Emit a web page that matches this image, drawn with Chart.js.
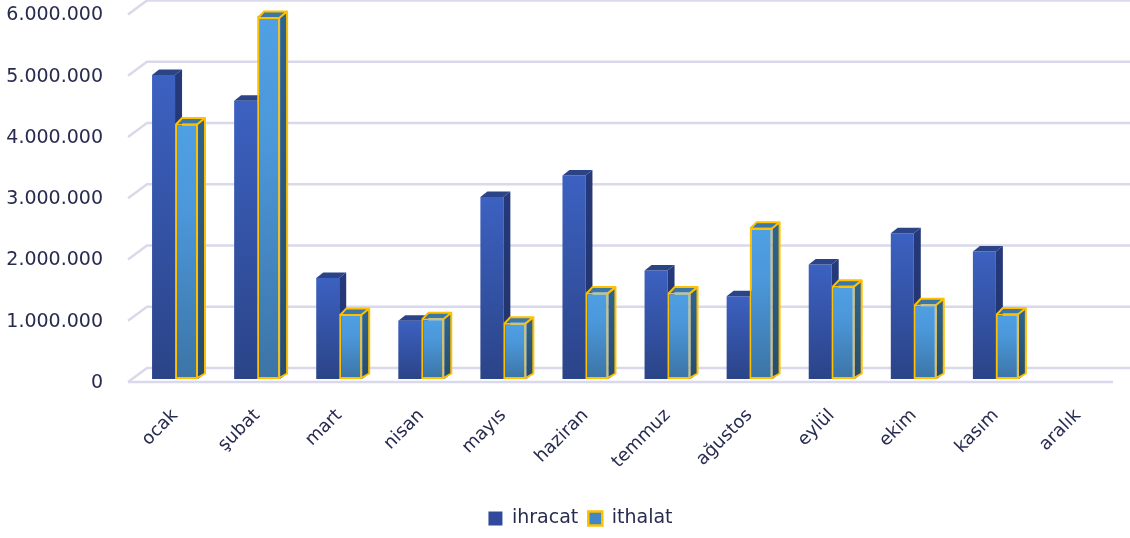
<!DOCTYPE html>
<html>
<head>
<meta charset="utf-8">
<script src="https://cdn.jsdelivr.net/npm/chart.js@4"></script>
<style>
    html, body { margin: 0; padding: 0; background: #ffffff; }
    #wrap { width: 1130px; height: 538px; }
</style>
</head>
<body>
<div id="wrap"><canvas id="tradeChart" width="1130" height="538"></canvas></div>
<script>
'use strict';

var months = ['ocak', 'şubat', 'mart', 'nisan', 'mayıs', 'haziran', 'temmuz', 'ağustos', 'eylül', 'ekim', 'kasım', 'aralık'];
var ihracat = [4960000, 4540000, 1650000, 950000, 2970000, 3320000, 1770000, 1350000, 1870000, 2380000, 2080000, null];
var ithalat = [4170000, 5910000, 1060000, 990000, 920000, 1410000, 1410000, 2470000, 1520000, 1220000, 1070000, null];
var yTicks = [0, 1000000, 2000000, 3000000, 4000000, 5000000, 6000000];

var textColor = '#272b4f';
var gridColor = '#d9d9eb';
var yellow = '#ffc000';

// depth of the fake 3d boxes
var dx = 7, dy = 5.5;

function frontGradient(context, stops) {
    var chart = context.chart;
    if (!chart.chartArea || context.raw == null) return stops[0][1];
    var y = chart.scales.y;
    var top = y.getPixelForValue(context.raw);
    var bottom = y.getPixelForValue(0);
    var g = chart.ctx.createLinearGradient(0, top, 0, bottom);
    stops.forEach(function (s) { g.addColorStop(s[0], s[1]); });
    return g;
}

function drawFaces(chart, meta, isImport) {
    var ctx = chart.ctx;
    var data = chart.data.datasets[meta.index].data;
    meta.data.forEach(function (bar, i) {
        if (data[i] == null) return;
        var p = bar.getProps(['x', 'y', 'base', 'width'], true);
        var l = p.x - p.width / 2, r = p.x + p.width / 2;
        ctx.save();
        // right side
        var side = ctx.createLinearGradient(0, p.y, 0, p.base);
        side.addColorStop(0, isImport ? '#2f638c' : '#25397b');
        side.addColorStop(1, isImport ? '#284c6b' : '#213367');
        ctx.beginPath();
        ctx.moveTo(r, p.y);
        ctx.lineTo(r + dx, p.y - dy);
        ctx.lineTo(r + dx, p.base - dy);
        ctx.lineTo(r, p.base);
        ctx.closePath();
        ctx.fillStyle = side;
        ctx.fill();
        // top
        ctx.beginPath();
        ctx.moveTo(l, p.y);
        ctx.lineTo(l + dx, p.y - dy);
        ctx.lineTo(r + dx, p.y - dy);
        ctx.lineTo(r, p.y);
        ctx.closePath();
        ctx.fillStyle = isImport ? '#3b78a6' : '#2b4488';
        ctx.fill();
        if (isImport) {
            ctx.strokeStyle = yellow;
            ctx.lineWidth = 2;
            ctx.lineJoin = 'round';
            ctx.beginPath();
            ctx.moveTo(l + 1, p.y + 1);
            ctx.lineTo(l + dx, p.y - dy);
            ctx.lineTo(r + dx, p.y - dy);
            ctx.lineTo(r + dx, p.base - dy);
            ctx.lineTo(r - 1, p.base - 1);
            ctx.moveTo(r + dx, p.y - dy);
            ctx.lineTo(r - 1, p.y + 1);
            ctx.stroke();
        }
        ctx.restore();
    });
}

var depthPlugin = {
    id: 'depth',
    afterLayout: function (chart) {
        // legend sits a bit right of the canvas centre in the original
        chart.legend.left += 21;
        chart.legend.right += 21;
    },
    beforeDatasetsDraw: function (chart) {
        // back wall grid lines with the slanted side wall
        var ctx = chart.ctx;
        var area = chart.chartArea;
        var y = chart.scales.y;
        ctx.save();
        ctx.strokeStyle = gridColor;
        ctx.lineWidth = 2.5;
        yTicks.forEach(function (v) {
            var p = y.getPixelForValue(v);
            ctx.beginPath();
            ctx.moveTo(area.left - 6, p + 3);
            ctx.lineTo(area.left + 13, p - 11);
            ctx.lineTo(chart.width, p - 11);
            ctx.stroke();
        });
        // front edge of the floor
        var p0 = y.getPixelForValue(0);
        ctx.beginPath();
        ctx.moveTo(area.left - 6, p0 + 3);
        ctx.lineTo(area.right - 6, p0 + 3);
        ctx.stroke();
        ctx.restore();
    },
    beforeDatasetDraw: function (chart, args) {
        // ithalat is painted later so it covers the ihracat side faces
        if (args.index === 1) return false;
    },
    afterDatasetDraw: function (chart, args) {
        if (args.index === 0) drawFaces(chart, args.meta, false);
    },
    afterDatasetsDraw: function (chart) {
        var meta = chart.getDatasetMeta(1);
        meta.data.forEach(function (bar, i) {
            if (ithalat[i] != null) bar.draw(chart.ctx, chart.chartArea);
        });
        drawFaces(chart, meta, true);
    }
};

var ctx = document.getElementById('tradeChart').getContext('2d');
var chart = new Chart(ctx, {
    type: 'bar',
    data: {
        labels: months,
        datasets: [{
            label: 'ihracat',
            data: ihracat,
            backgroundColor: function (c) {
                return frontGradient(c, [[0, '#3c61c1'], [1, '#2b4488']]);
            },
            borderWidth: 0
        },
        {
            label: 'ithalat',
            data: ithalat,
            backgroundColor: function (c) {
                return frontGradient(c, [[0, '#4fa0e4'], [0.35, '#4b97da'], [1, '#3c74a5']]);
            },
            borderColor: yellow,
            borderWidth: 2,
            borderSkipped: false
        }]
    },
    options: {
        responsive: false,
        animation: false,
        events: [],
        layout: {
            padding: { top: 11, left: 0, right: 11, bottom: 0 }
        },
        datasets: {
            bar: { categoryPercentage: 0.56, barPercentage: 1 }
        },
        scales: {
            x: {
                grid: { display: false },
                border: { display: false },
                ticks: {
                    color: textColor,
                    font: { family: 'DejaVu Sans', size: 18 },
                    maxRotation: 45,
                    minRotation: 45,
                    padding: 18,
                    autoSkip: false
                },
                afterFit: function (scale) { scale.height = 120; }
            },
            y: {
                min: 0,
                max: 6000000,
                // grid is drawn by the depth plugin; tickLength only spaces the labels
                grid: { display: false, tickLength: 31 },
                border: { display: false },
                ticks: {
                    stepSize: 1000000,
                    color: textColor,
                    font: { family: 'DejaVu Sans', size: 19 },
                    padding: 0,
                    labelOffset: 4,
                    callback: function (v) {
                        return String(v).replace(/\B(?=(\d{3})+(?!\d))/g, '.');
                    }
                },
                afterFit: function (scale) { scale.width = 134; }
            }
        },
        plugins: {
            legend: {
                position: 'bottom',
                labels: {
                    color: textColor,
                    font: { family: 'DejaVu Sans', size: 19 },
                    boxWidth: 14,
                    boxHeight: 14,
                    padding: 10,
                    generateLabels: function () {
                        return [
                            { text: 'ihracat', fillStyle: '#30499a', strokeStyle: '#30499a', lineWidth: 0, fontColor: textColor, datasetIndex: 0 },
                            { text: 'ithalat', fillStyle: '#4386c4', strokeStyle: yellow, lineWidth: 2.5, fontColor: textColor, datasetIndex: 1 }
                        ];
                    }
                }
            },
            tooltip: { enabled: false }
        }
    },
    plugins: [depthPlugin]
});
</script>
</body>
</html>
